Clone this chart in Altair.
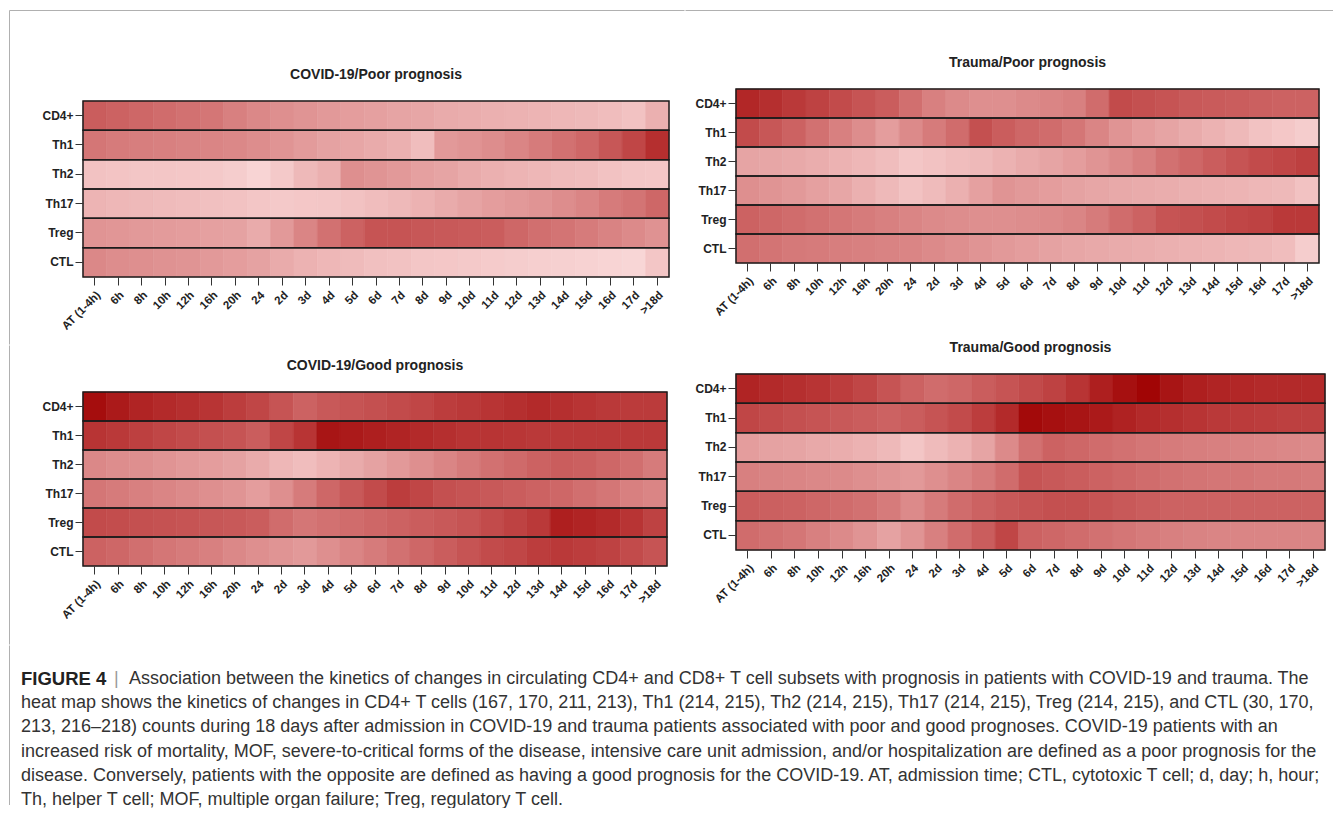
import altair as alt
import pandas as pd

TIMES = ["AT (1-4h)", "6h", "8h", "10h", "12h", "16h", "20h", "24", "2d", "3d", "4d", "5d",
         "6d", "7d", "8d", "9d", "10d", "11d", "12d", "13d", "14d", "15d", "16d", "17d", ">18d"]
SUBSETS = ["CD4+", "Th1", "Th2", "Th17", "Treg", "CTL"]

COVID_POOR = {
    "CD4+": [62, 60, 58, 56, 54, 52, 48, 45, 42, 40, 38, 36, 35, 33, 32, 30, 29, 28, 27, 26, 25, 24, 22, 20, 28],
    "Th1":  [52, 50, 49, 48, 47, 46, 45, 43, 40, 37, 34, 32, 30, 28, 22, 38, 40, 43, 46, 50, 54, 58, 65, 72, 82],
    "Th2":  [20, 19, 18, 18, 17, 16, 14, 10, 16, 24, 28, 42, 40, 38, 35, 33, 30, 28, 26, 25, 23, 22, 20, 18, 17],
    "Th17": [26, 25, 24, 23, 22, 21, 20, 18, 16, 17, 18, 20, 22, 24, 27, 30, 33, 36, 38, 40, 43, 46, 50, 53, 58],
    "Treg": [40, 39, 38, 37, 36, 35, 34, 30, 38, 46, 54, 60, 66, 66, 65, 64, 63, 62, 58, 55, 53, 50, 47, 44, 41],
    "CTL":  [45, 43, 42, 41, 40, 38, 36, 34, 30, 27, 25, 23, 21, 20, 18, 17, 16, 15, 14, 13, 12, 11, 10, 9, 18],
}
TRAUMA_POOR = {
    "CD4+": [85, 82, 78, 74, 70, 66, 62, 55, 48, 44, 42, 42, 44, 46, 48, 56, 70, 68, 66, 64, 63, 62, 61, 60, 60],
    "Th1":  [70, 65, 60, 54, 48, 43, 36, 44, 50, 56, 68, 62, 58, 56, 52, 46, 40, 36, 33, 30, 27, 24, 20, 17, 14],
    "Th2":  [33, 32, 31, 29, 27, 25, 22, 18, 20, 22, 24, 27, 30, 33, 36, 40, 44, 48, 54, 58, 62, 66, 70, 72, 75],
    "Th17": [42, 40, 38, 35, 32, 28, 24, 20, 23, 28, 35, 40, 38, 36, 34, 32, 31, 30, 29, 28, 27, 26, 25, 24, 20],
    "Treg": [60, 58, 56, 54, 52, 50, 48, 46, 44, 43, 42, 42, 43, 44, 46, 50, 56, 60, 66, 68, 70, 72, 74, 78, 78],
    "CTL":  [55, 53, 51, 50, 49, 48, 47, 46, 44, 42, 40, 38, 36, 34, 32, 31, 30, 29, 28, 27, 26, 25, 24, 22, 14],
}
COVID_GOOD = {
    "CD4+": [95, 90, 86, 84, 82, 80, 76, 72, 66, 60, 64, 66, 68, 70, 72, 76, 78, 80, 82, 84, 82, 80, 78, 77, 77],
    "Th1":  [80, 78, 75, 72, 70, 68, 66, 62, 72, 80, 92, 90, 88, 86, 84, 82, 80, 80, 79, 78, 78, 78, 78, 78, 78],
    "Th2":  [45, 43, 42, 40, 38, 36, 34, 30, 25, 22, 26, 30, 34, 38, 42, 46, 50, 54, 57, 60, 62, 61, 58, 55, 50],
    "Th17": [52, 50, 48, 46, 44, 42, 40, 36, 42, 50, 58, 64, 70, 76, 72, 68, 66, 64, 62, 60, 58, 55, 52, 48, 46],
    "Treg": [70, 69, 68, 67, 66, 65, 64, 62, 56, 52, 54, 56, 58, 60, 62, 64, 66, 70, 74, 78, 88, 86, 84, 80, 74],
    "CTL":  [60, 58, 55, 52, 50, 48, 45, 42, 40, 38, 42, 46, 50, 54, 58, 62, 66, 70, 72, 76, 78, 76, 74, 70, 66],
}
TRAUMA_GOOD = {
    "CD4+": [86, 84, 82, 80, 76, 72, 66, 60, 56, 58, 62, 66, 70, 74, 80, 88, 94, 98, 92, 88, 86, 85, 84, 84, 84],
    "Th1":  [72, 70, 68, 66, 64, 62, 60, 62, 66, 70, 76, 84, 96, 94, 92, 90, 87, 84, 82, 80, 78, 77, 76, 75, 75],
    "Th2":  [36, 34, 33, 31, 29, 27, 24, 18, 23, 27, 33, 44, 54, 60, 58, 56, 54, 52, 50, 49, 48, 47, 46, 45, 44],
    "Th17": [48, 47, 46, 45, 44, 42, 40, 38, 42, 46, 50, 56, 66, 64, 62, 60, 58, 56, 54, 53, 52, 52, 51, 51, 50],
    "Treg": [62, 61, 60, 58, 56, 54, 50, 44, 50, 56, 60, 64, 66, 68, 68, 66, 64, 62, 60, 60, 60, 60, 60, 60, 60],
    "CTL":  [56, 54, 52, 48, 44, 40, 34, 40, 48, 56, 62, 72, 60, 58, 56, 54, 52, 50, 48, 47, 46, 46, 46, 46, 46],
}

TITLES = ["COVID-19/Poor prognosis", "Trauma/Poor prognosis",
          "COVID-19/Good prognosis", "Trauma/Good prognosis"]

CAPTION_HEAD = "FIGURE 4"
CAPTION_LINES = [
    "Association between the kinetics of changes in circulating CD4+ and CD8+ T cell subsets with prognosis in patients with COVID-19 and trauma. The",
    "heat map shows the kinetics of changes in CD4+ T cells (167, 170, 211, 213), Th1 (214, 215), Th2 (214, 215), Th17 (214, 215), Treg (214, 215), and CTL (30, 170,",
    "213, 216\u2013218) counts during 18 days after admission in COVID-19 and trauma patients associated with poor and good prognoses. COVID-19 patients with an",
    "increased risk of mortality, MOF, severe-to-critical forms of the disease, intensive care unit admission, and/or hospitalization are defined as a poor prognosis for the",
    "disease. Conversely, patients with the opposite are defined as having a good prognosis for the COVID-19. AT, admission time; CTL, cytotoxic T cell; d, day; h, hour;",
    "Th, helper T cell; MOF, multiple organ failure; Treg, regulatory T cell.",
]

FONT = "Liberation Sans, Arial, Helvetica, sans-serif"
COLOR_DOMAIN = [0, 20, 40, 60, 80, 100]
COLOR_RANGE = ["#fde6e6", "#f2c2c2", "#e09494", "#cc6262", "#b83434", "#9e0000"]
FRAME = "#b0b0b0"

# guide positions in page pixels
FL, FT, XS, XR, YL, YR, YB = 9.5, 10.5, 685, 1333, 345, 335, 645
OXL, OXR, OY = 83, 736, 89          # column origins / top-row origin


def rule(a, b, c, d, color=FRAME):
    return alt.Chart(pd.DataFrame({"k": [0]})).mark_rule(color=color, strokeWidth=1).encode(
        x=alt.value(a), x2=alt.value(b), y=alt.value(c), y2=alt.value(d))


def panel(title, values, w, h, top, extra):
    df = pd.DataFrame([{"subset": s, "time": t, "value": v}
                       for s in SUBSETS for t, v in zip(TIMES, values[s])])
    cscale = alt.Scale(domain=COLOR_DOMAIN, range=COLOR_RANGE, interpolate="rgb")
    x = alt.X("time:N", sort=TIMES, title=None,
              scale=alt.Scale(paddingInner=0, paddingOuter=0),
              axis=alt.Axis(labelAngle=-45, labelAlign="right", labelBaseline="top",
                            labelPadding=4, tickSize=8, domain=False, grid=False,
                            labelFontSize=11.5, labelFontWeight="bold", labelColor="#222",
                            tickColor="#333", labelFont=FONT, labelOverlap=False,
                            labelFlush=False))
    y = alt.Y("subset:N", sort=SUBSETS, title=None,
              scale=alt.Scale(paddingInner=0, paddingOuter=0, range=[top, top + h]),
              axis=alt.Axis(tickSize=8, labelPadding=2, domain=False, grid=False,
                            labelFontSize=12, labelFontWeight="bold", labelColor="#222",
                            tickColor="#333", labelFont=FONT))
    cells = alt.Chart(df).mark_rect(strokeWidth=0.6).encode(
        x=x, y=y,
        color=alt.Color("value:Q", scale=cscale, legend=None),
        stroke=alt.Stroke("value:Q", scale=cscale, legend=None))
    borders = alt.Chart(pd.DataFrame({"subset": SUBSETS})).mark_rect(
        fillOpacity=0, stroke="#1b1b1b", strokeWidth=1.5).encode(
        y=y, x=alt.value(0), x2=alt.value(w))
    ttl = alt.Chart(pd.DataFrame({"t": [title]})).mark_text(
        fontSize=14, fontWeight="bold", color="#222", font=FONT,
        align="center", baseline="middle").encode(
        text="t:N", x=alt.value(w / 2), y=alt.value(top - 26))
    return alt.layer(cells, borders, ttl, *extra).properties(width=w, height=top + h)


# top row: both panels share origin y = OY; the left heat map starts 12 px lower
p1 = panel(TITLES[0], COVID_POOR, 586, 176, 12, [
    rule(FL - OXL, XS - OXL - 0.5, FT - OY, FT - OY),
    rule(FL - OXL, FL - OXL, FT - OY, YL - OY - 0.5)])
p2 = panel(TITLES[1], TRAUMA_POOR, 583, 174, 0, [
    rule(XS - OXR + 0.5, XR - OXR, FT - OY, FT - OY),
    rule(-48, -48, YR - OY - 5, YR - OY - 0.5, color="#ffffff")])
p3 = panel(TITLES[2], COVID_GOOD, 584, 174, 0, [
    rule(FL - OXL, FL - OXL, YL - 392 + 0.5, YB - 392 - 0.5)])
p4 = panel(TITLES[3], TRAUMA_GOOD, 589, 176, 0, [
    rule(-48, -48, YR - 374 + 0.5, YR - 374 + 5, color="#ffffff")])

cap_df = pd.DataFrame({"line": list(range(len(CAPTION_LINES))), "text": CAPTION_LINES})
yenc = alt.Y("line:Q", axis=None, scale=alt.Scale(domain=[0, 5], range=[34, 155]))
cap_base = alt.Chart(cap_df)
cap_first = cap_base.transform_filter("datum.line == 0").mark_text(
    align="left", baseline="middle", fontSize=18, font=FONT, color="#333").encode(
    x=alt.value(129 - OXL), y=yenc, text="text:N")
cap_rest = cap_base.transform_filter("datum.line > 0").mark_text(
    align="left", baseline="middle", fontSize=18, font=FONT, color="#333").encode(
    x=alt.value(21 - OXL), y=yenc, text="text:N")
cap_head = alt.Chart(pd.DataFrame({"t": [CAPTION_HEAD], "line": [0]})).mark_text(
    align="left", baseline="middle", fontSize=18.5, fontWeight="bold", font=FONT,
    color="#222").encode(x=alt.value(21 - OXL), y=yenc, text="t:N")
cap_bar = alt.Chart(pd.DataFrame({"t": ["|"], "line": [0]})).mark_text(
    align="left", baseline="middle", fontSize=18, font=FONT, color="#9a9a9a").encode(
    x=alt.value(114 - OXL), y=yenc, text="t:N")
caption = alt.layer(cap_first, cap_rest, cap_head, cap_bar,
                    rule(FL - OXL, FL - OXL, 0.5, 160)).properties(width=1200, height=150)

colL = alt.vconcat(p1, p3, spacing=0)
colR = alt.vconcat(p2, p4, spacing=0)
row = alt.hconcat(colL, colR, spacing=0)
chart = alt.vconcat(row, caption, spacing=0).properties(
    padding={"left": 1, "top": 2, "right": 0, "bottom": -1},
    background="#ffffff"
).configure_view(stroke=None)

chart.save("out.html", embed_options={"renderer": "svg", "actions": False})
